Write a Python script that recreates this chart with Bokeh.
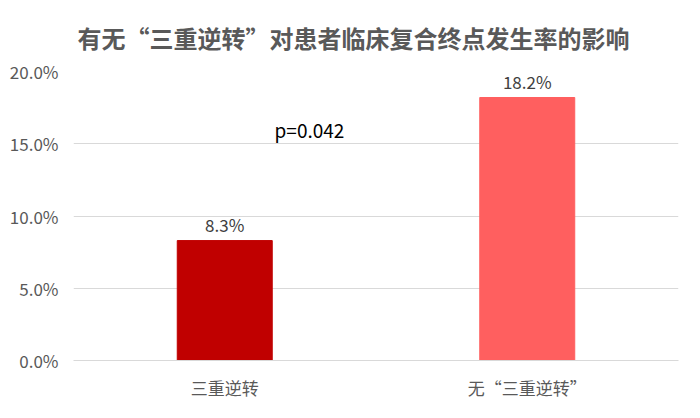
from bokeh.plotting import figure
from bokeh.models import ColumnDataSource, FactorRange, Range1d, NumeralTickFormatter, Label, FixedTicker
from bokeh.embed import file_html
from bokeh.resources import INLINE
from bokeh.core.properties import value

categories = ["三重逆转", "无“三重逆转”"]
rates = [0.083, 0.182]
labels = ["8.3%", "18.2%"]
colors = ["#C00000", "#FF5F5F"]
y_ticks = [0.0, 0.05, 0.10, 0.15, 0.20]
title_text = "有无“三重逆转”对患者临床复合终点发生率的影响"
p_text = "p=0.042"

FONT = "Noto Sans CJK SC"

src = ColumnDataSource(dict(cat=categories, rate=rates, lab=labels, color=colors))

p = figure(x_range=FactorRange(*categories), y_range=Range1d(0, 0.2),
           width=684, height=402, output_backend="svg", toolbar_location=None,
           min_border_left=73, min_border_right=6, min_border_bottom=35, min_border_top=67)

p.title.text = title_text
p.title.align = "left"
p.title.offset = 4
p.title.text_font = FONT
p.title.text_font_size = "24px"
p.title.text_font_style = "bold"
p.title.text_color = "#595959"
p.title.standoff = 34

p.vbar(x="cat", top="rate", width=0.314, color="color", source=src)
p.text(x="cat", y="rate", text="lab", source=src, text_align="center", text_baseline="middle",
       y_offset=-16, text_font=value(FONT), text_font_size="17px", text_color="#404040")

p.add_layout(Label(x=0.78, y=0.160, text=p_text, text_align="center", text_baseline="middle",
                   text_font=FONT, text_font_size="19px", text_color="#000000"))

p.yaxis.ticker = FixedTicker(ticks=y_ticks)
p.yaxis.formatter = NumeralTickFormatter(format="0.0%")
p.yaxis.axis_line_color = None
p.yaxis.major_tick_line_color = None
p.yaxis.minor_tick_line_color = None
p.yaxis.major_label_text_font = FONT
p.yaxis.major_label_text_font_size = "17px"
p.yaxis.major_label_text_color = "#595959"
p.yaxis.major_label_standoff = 9

p.xaxis.axis_line_color = "#d9d9d9"
p.xaxis.major_tick_line_color = None
p.xaxis.minor_tick_line_color = None
p.xaxis.major_label_text_font = FONT
p.xaxis.major_label_text_font_size = "17px"
p.xaxis.major_label_text_color = "#595959"
p.xaxis.major_label_standoff = 8

p.xgrid.grid_line_color = None
p.ygrid.grid_line_color = "#d9d9d9"
p.outline_line_color = None
p.x_range.range_padding = 0

open("out.html", "w").write(file_html(p, INLINE))
